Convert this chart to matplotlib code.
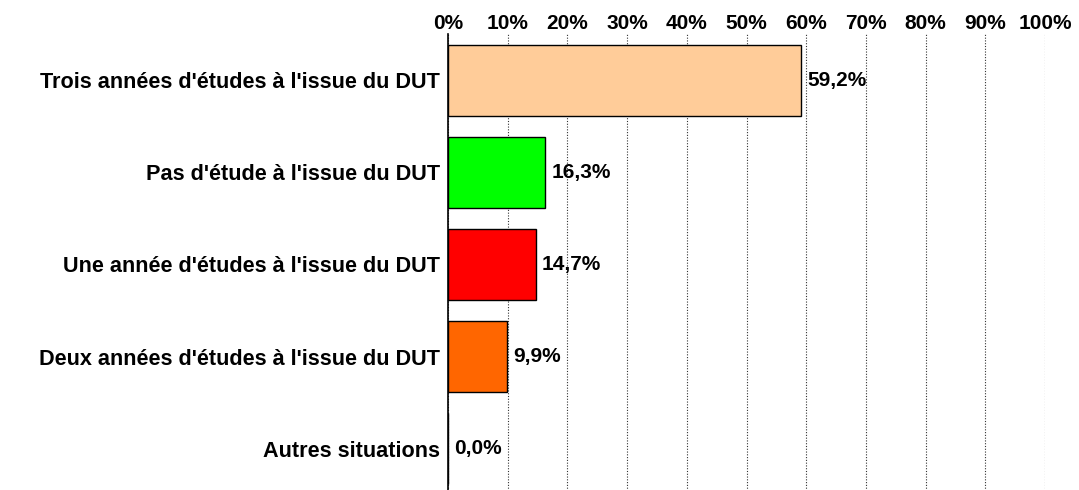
import matplotlib.pyplot as plt
import numpy as np

# données
categories = [
    "Trois années d'études à l'issue du DUT",
    "Pas d'étude à l'issue du DUT",
    "Une année d'études à l'issue du DUT",
    "Deux années d'études à l'issue du DUT",
    "Autres situations",
]
valeurs = [59.2, 16.3, 14.7, 9.9, 0.0]
couleurs = ['#FFCC99', '#00FF00', '#FF0000', '#FF6600', '#FFFFFF']
ticks = list(range(0, 101, 10))

plt.rcParams['font.family'] = ['Liberation Sans', 'DejaVu Sans']

fig = plt.figure(figsize=(10.79, 4.9), dpi=100)
ax = fig.add_axes([448 / 1079, 1 - 494.5 / 490, (1045 - 448) / 1079, 460 / 490])

y = np.arange(len(categories))
ax.barh(y, valeurs, height=0.77, color=couleurs, edgecolor='black', linewidth=1, zorder=3)

for yi, v in zip(y, valeurs):
    ax.text(v + 1.0, yi, f"{v:.1f}%".replace('.', ','), va='center', ha='left',
            fontsize=15, fontweight='bold', zorder=4)

ax.set_xlim(0, 100)
ax.set_ylim(len(categories) - 0.5, -0.5)
ax.set_yticks(y)
ax.set_yticklabels(categories, fontsize=15.6, fontweight='bold')
ax.set_xticks(ticks)
ax.set_xticklabels([f"{t}%" for t in ticks], fontsize=15, fontweight='bold')
ax.xaxis.tick_top()
ax.tick_params(axis='y', length=0, pad=6)
ax.tick_params(axis='x', length=0, pad=1)

ax.grid(axis='x', linestyle=(0, (1, 1.5)), color='#333333', linewidth=0.8, zorder=0)
for s in ['top', 'right', 'bottom']:
    ax.spines[s].set_visible(False)
ax.spines['left'].set_linewidth(1.2)
ax.spines['left'].set_zorder(5)

plt.savefig('out.png', dpi=100)
